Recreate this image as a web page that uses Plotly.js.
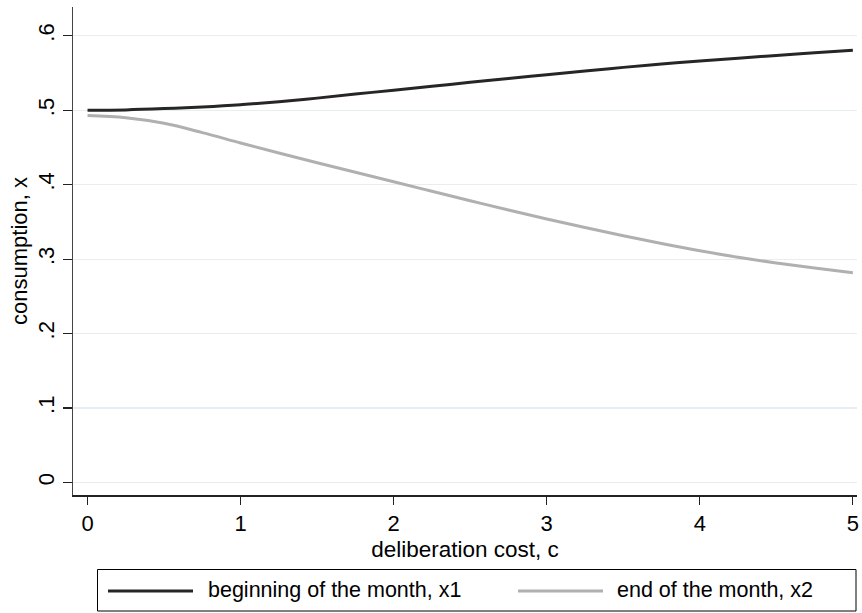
<!DOCTYPE html>
<html>
<head>
<meta charset="utf-8">
<script src="https://cdn.plot.ly/plotly-3.0.1.min.js"></script>
<style>html,body{margin:0;padding:0;background:#fff;}#chart{width:862px;height:613px;}</style>
</head>
<body>
<div id="chart"></div>
<script>
// deliberation cost, c
var cost = [0, 0.25, 0.5, 0.75, 1, 1.25, 1.5, 1.75, 2, 2.25, 2.5, 2.75, 3, 3.25, 3.5, 3.75, 4, 4.25, 4.5, 4.75, 5];
// beginning of the month, x1
var x1 = [0.500, 0.5005, 0.5022, 0.5045, 0.5075, 0.5115, 0.5163, 0.5217, 0.5270, 0.5323, 0.5375, 0.5427, 0.5478, 0.5528, 0.5576, 0.5621, 0.5662, 0.5700, 0.5736, 0.5771, 0.5805];
// end of the month, x2
var x2 = [0.4930, 0.4900, 0.4825, 0.4700, 0.4560, 0.4425, 0.4295, 0.4168, 0.4040, 0.3912, 0.3785, 0.3660, 0.3540, 0.3425, 0.3315, 0.3210, 0.3112, 0.3025, 0.2948, 0.2880, 0.2818];
var seriesNames = ["beginning of the month, x1", "end of the month, x2"];
var seriesColors = ["#262626", "#b0b0b0"];
var yTickVals = [0, 0.1, 0.2, 0.3, 0.4, 0.5, 0.6];
var yTickText = ["0", ".1", ".2", ".3", ".4", ".5", ".6"];
var xTickVals = [0, 1, 2, 3, 4, 5];
var xTickText = ["0", "1", "2", "3", "4", "5"];

var FONT = "Liberation Sans, Arial, Helvetica, sans-serif";
var W = 862, H = 613;
var M = {l: 73, r: 5, t: 7, b: 118};
var PW = W - M.l - M.r, PH = H - M.t - M.b;
function px2x(p) { return (p - M.l) / PW; }
function px2y(p) { return (H - M.b - p) / PH; }

var traces = [
  {x: cost, y: x1, name: seriesNames[0], type: "scatter", mode: "lines", showlegend: false,
   line: {color: seriesColors[0], width: 3, shape: "spline"}},
  {x: cost, y: x2, name: seriesNames[1], type: "scatter", mode: "lines", showlegend: false,
   line: {color: seriesColors[1], width: 3, shape: "spline"}}
];

// hand-built legend box (Stata style)
var legY = 591;
var legItems = [{lineX: 108, textX: 206}, {lineX: 518, textX: 615}];
var shapes = [{
  type: "rect", xref: "paper", yref: "paper",
  x0: px2x(97.5), x1: px2x(856), y0: px2y(569.5), y1: px2y(611),
  line: {color: "#000", width: 1}, fillcolor: "rgba(0,0,0,0)"
}];
var annotations = [];
legItems.forEach(function (it, i) {
  shapes.push({type: "line", xref: "paper", yref: "paper",
    x0: px2x(it.lineX), x1: px2x(it.lineX + 85), y0: px2y(legY), y1: px2y(legY),
    line: {color: seriesColors[i], width: 3}});
  annotations.push({xref: "paper", yref: "paper", x: px2x(it.textX), y: px2y(legY - 1),
    xanchor: "left", yanchor: "middle", showarrow: false, text: seriesNames[i],
    font: {family: FONT, size: 21.5, color: "#000"}});
});

var layout = {
  width: W, height: H,
  margin: M,
  paper_bgcolor: "#ffffff", plot_bgcolor: "#ffffff",
  font: {family: FONT, size: 22, color: "#000"},
  showlegend: false,
  shapes: shapes,
  annotations: annotations,
  xaxis: {
    range: [-0.095, 5.027], tickvals: xTickVals, ticktext: xTickText,
    showgrid: false, zeroline: false,
    showline: true, linecolor: "#222", linewidth: 1.5,
    ticks: "outside", ticklen: 8, tickwidth: 1.2, tickcolor: "#222",
    tickfont: {family: FONT, size: 22, color: "#000"},
    title: {text: "deliberation cost, c", font: {family: FONT, size: 22.5, color: "#000"}, standoff: 6},
    automargin: false, fixedrange: true
  },
  yaxis: {
    range: [-0.0168, 0.6387], tickvals: yTickVals, ticktext: yTickText, tickangle: -90,
    showgrid: true, gridcolor: "#e6eef1", gridwidth: 1.2, zeroline: false,
    showline: true, linecolor: "#444", linewidth: 1.5,
    ticks: "outside", ticklen: 9, tickwidth: 1.2, tickcolor: "#222",
    tickfont: {family: FONT, size: 22, color: "#000"},
    title: {text: "consumption, x", font: {family: FONT, size: 22, color: "#000"}, standoff: 0},
    automargin: false, fixedrange: true
  }
};
Plotly.newPlot("chart", traces, layout, {displayModeBar: false, staticPlot: true});
</script>
</body>
</html>
